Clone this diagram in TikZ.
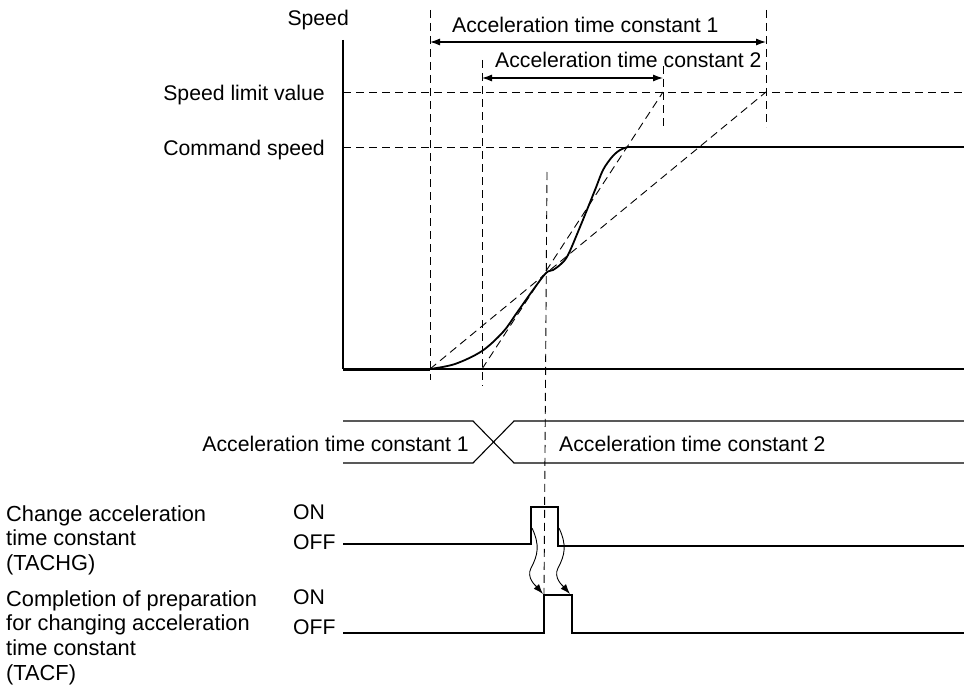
\documentclass[tikz,border=0pt]{standalone}
\usepackage{fontspec}
\setmainfont{Liberation Sans}
\usetikzlibrary{arrows.meta}
\begin{document}
\begin{tikzpicture}[x=1pt,y=-1pt,
  lbl/.style={font=\fontsize{21.2}{24.7}\selectfont, inner sep=0pt, align=left},
  side/.style={lbl, font=\fontsize{21.8}{24.7}\selectfont},
  dsh/.style={dash pattern=on 8pt off 5pt, line width=0.9pt},
  sig/.style={line width=1.1pt},
  dim/.style={line width=1.1pt, {Latex[length=10pt,width=7pt]}-{Latex[length=10pt,width=7pt]}},
  wav/.style={line width=0.9pt, -{Latex[length=10pt,width=7pt]}}
]
\useasboundingbox (0,0) rectangle (964,693);
% ---------- coordinates ----------
\coordinate (axtop) at (343,40);
\coordinate (org) at (343,369);
\coordinate (t0) at (430,369);
\coordinate (t1) at (482,369);
\coordinate (p1) at (663,92);
\coordinate (p2) at (766,92);
\coordinate (cs) at (628,147);
\coordinate (csend) at (964,147);
\coordinate (bend) at (964,369);
% ---------- axes ----------
\draw[sig] (axtop) -- (org);
\draw[line width=3pt] (org) -- (t0);
\draw[line width=1.2pt] (t0) -- (bend);
% ---------- labels ----------
\node[lbl, anchor=base east] (speed) at (349,26) {Speed};
\node[lbl, anchor=base east] (slv) at (325,100) {Speed limit value};
\node[lbl, anchor=base east] (cmd) at (325,155) {Command speed};
% ---------- horizontal dashed ----------
\coordinate (slvA) at (343,92);
\coordinate (slvB) at (964,92);
\coordinate (cmdA) at (343,147);
\draw[dsh] (slvA) -- (slvB);
\draw[dsh] (cmdA) -- (cs);
% ---------- vertical dashed ----------
\coordinate (v1a) at (430,10);  \coordinate (v1b) at (430,380);
\coordinate (v2a) at (482,60);  \coordinate (v2b) at (482,386);
\coordinate (v3a) at (663,66);  \coordinate (v3b) at (663,127);
\coordinate (v4a) at (766,10);  \coordinate (v4b) at (766,127);
\coordinate (v5a) at (547,172); \coordinate (v5b) at (544,594);
\draw[dsh] (v1a) -- (v1b);
\draw[dsh] (v2a) -- (v2b);
\draw[dsh] (v3a) -- (v3b);
\draw[dsh] (v4a) -- (v4b);
\draw[dsh] (v5a) -- (v5b);
% ---------- slopes ----------
\draw[dsh] (t0) -- (p2);
\draw[dsh] (t1) -- (p1);
% ---------- dimension arrows ----------
\coordinate (d1a) at (430,42); \coordinate (d1b) at (766,42);
\coordinate (d2a) at (482,78); \coordinate (d2b) at (663,78);
\draw[dim] (d1a) -- (d1b);
\draw[dim] (d2a) -- (d2b);
\node[lbl, anchor=base west] (atc1) at (452,33) {Acceleration time constant 1};
\node[lbl, anchor=base west] (atc2) at (495,67) {Acceleration time constant 2};
% ---------- speed curve ----------
\draw[line width=1.8pt, line join=round] plot[smooth, tension=0.55] coordinates {
 (430,369) (455,364) (482,351) (503,332) (516,314) (533,290) (546,273)
 (553,270) (561,264) (568,255) (580,227) (595,190) (603,170) (612,157) (620,150) (628,147)};
\draw[line width=1.8pt] (cs) -- (csend);
% ---------- time constant transition ----------
\coordinate (xl1) at (343,421); \coordinate (xl2) at (473,421);
\coordinate (xr1) at (514,421); \coordinate (xr2) at (964,421);
\coordinate (yl1) at (343,463); \coordinate (yl2) at (473,463);
\coordinate (yr1) at (514,463); \coordinate (yr2) at (964,463);
\draw[sig] (xl1) -- (xl2) -- (yr1) -- (yr2);
\draw[sig] (yl1) -- (yl2) -- (xr1) -- (xr2);
\node[lbl, anchor=base east] (tc1) at (469,451) {Acceleration time constant 1};
\node[lbl, anchor=base west] (tc2) at (559,451) {Acceleration time constant 2};
% ---------- TACHG ----------
\node[side, anchor=north west] (tachg) at (6,505) {Change acceleration\\time constant\\(TACHG)};
\node[lbl, anchor=base west] (on1) at (293,519) {ON};
\node[lbl, anchor=base west] (off1) at (293,549) {OFF};
\coordinate (a0) at (343,544); \coordinate (a1) at (531,544);
\coordinate (a2) at (531,507); \coordinate (a3) at (558,507);
\coordinate (a4) at (558,546); \coordinate (a5) at (964,546);
\draw[sig] (a0) -- (a1) -- (a2) -- (a3) -- (a4) -- (a5);
% ---------- TACF ----------
\node[side, anchor=north west] (tacf) at (6,590) {Completion of preparation\\for changing acceleration\\time constant\\(TACF)};
\node[lbl, anchor=base west] (on2) at (293,604) {ON};
\node[lbl, anchor=base west] (off2) at (293,634) {OFF};
\coordinate (b0) at (343,633); \coordinate (b1) at (544,633);
\coordinate (b2) at (544,595); \coordinate (b3) at (572,595);
\coordinate (b4) at (572,633); \coordinate (b5) at (964,633);
\draw[sig] (b0) -- (b1) -- (b2) -- (b3) -- (b4) -- (b5);
% ---------- wavy arrows ----------
\coordinate (w1s) at (532,528); \coordinate (w1e) at (543,594);
\coordinate (w2s) at (559,528); \coordinate (w2e) at (570,594);
\draw[wav] (w1s) .. controls (540,545) and (538,555) .. (531,568) .. controls (526,578) and (536,586) .. (w1e);
\draw[wav] (w2s) .. controls (567,545) and (565,555) .. (558,568) .. controls (553,578) and (563,586) .. (w2e);
\end{tikzpicture}
\end{document}
